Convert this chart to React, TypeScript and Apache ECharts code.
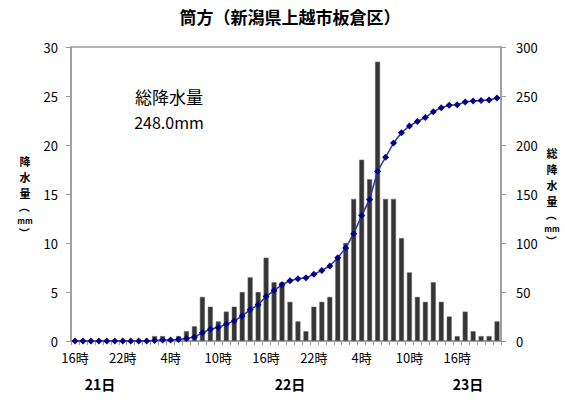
import React, { useEffect, useRef } from "react";
import * as echarts from "echarts";

// Hours from 21日16時 to 23日21時
const hours: number[] = [
  16, 17, 18, 19, 20, 21, 22, 23,
  0, 1, 2, 3, 4, 5, 6, 7, 8, 9, 10, 11, 12, 13, 14, 15, 16, 17, 18, 19, 20, 21, 22, 23,
  0, 1, 2, 3, 4, 5, 6, 7, 8, 9, 10, 11, 12, 13, 14, 15, 16, 17, 18, 19, 20, 21,
];
const categories: string[] = hours.map((h) => `${h}時`);

// hourly rainfall (mm)
const hourlyRain: number[] = [
  0, 0, 0, 0, 0, 0, 0, 0, 0, 0,
  0.5, 0.5, 0, 0.5, 1.0, 1.5, 4.5, 3.5, 2.0, 3.0,
  3.5, 5.0, 6.5, 5.0, 8.5, 6.0, 6.0, 4.0, 2.0, 1.0,
  3.5, 4.0, 4.5, 8.5, 10.0, 14.5, 18.5, 16.5, 28.5, 14.5,
  14.5, 10.5, 7.0, 4.5, 4.0, 6.0, 4.0, 2.5, 0.5, 3.0,
  1.0, 0.5, 0.5, 2.0,
];

// cumulative rainfall (mm)
const totalRain: number[] = [
  0, 0, 0, 0, 0, 0, 0, 0, 0, 0,
  0.5, 1.0, 1.0, 1.5, 2.5, 4.0, 8.5, 12.0, 14.0, 17.0,
  20.5, 25.5, 32.0, 37.0, 45.5, 51.5, 57.5, 61.5, 63.5, 64.5,
  68.0, 72.0, 76.5, 85.0, 95.0, 109.5, 128.0, 144.5, 173.0, 187.5,
  202.0, 212.5, 219.5, 224.0, 228.0, 234.0, 238.0, 240.5, 241.0, 244.0,
  245.0, 245.5, 246.0, 248.0,
];

const titleText = "筒方（新潟県上越市板倉区）";
const leftAxisName = ["降", "水", "量"];
const rightAxisName = ["総", "降", "水", "量"];
const unitParts = ["（", "mm", "）"];
const dayLabels = ["21日", "22日", "23日"];
const noteTitle = "総降水量";
const noteValue = "248.0mm";

const FONT = "'Noto Sans CJK JP', 'Noto Sans', sans-serif";
const AXIS_COLOR = "#9a9a9a";

function verticalName(chars: string[], x: number, yStart: number, pitch: number) {
  const items: any[] = chars.map((c, i) => ({
    type: "text",
    x,
    y: yStart + i * pitch,
    style: {
      text: c,
      font: `bold 11px ${FONT}`,
      fill: "#000",
      textAlign: "center",
      textVerticalAlign: "middle",
    },
  }));
  const y0 = yStart + chars.length * pitch;
  // "（" rotated to stand as an arc, "mm", "）" rotated
  items.push({
    type: "text",
    x,
    y: y0 - 2,
    rotation: -Math.PI / 2,
    style: {
      text: unitParts[0],
      font: `bold 11px ${FONT}`,
      fill: "#000",
      textAlign: "center",
      textVerticalAlign: "middle",
    },
  });
  items.push({
    type: "text",
    x,
    y: y0 + 11,
    style: {
      text: unitParts[1],
      font: `bold 8px ${FONT}`,
      fill: "#000",
      textAlign: "center",
      textVerticalAlign: "middle",
    },
  });
  items.push({
    type: "text",
    x,
    y: y0 + 24,
    rotation: -Math.PI / 2,
    style: {
      text: unitParts[2],
      font: `bold 11px ${FONT}`,
      fill: "#000",
      textAlign: "center",
      textVerticalAlign: "middle",
    },
  });
  return items;
}

export default function App() {
  const ref = useRef<HTMLDivElement>(null);

  useEffect(() => {
    if (!ref.current) return;
    const chart = echarts.init(ref.current, undefined, { renderer: "svg" });
    chart.setOption({
      animation: false,
      backgroundColor: "#ffffff",
      textStyle: { fontFamily: FONT },
      grid: {
        left: 71,
        right: 64,
        top: 47,
        bottom: 63,
        show: true,
        borderColor: AXIS_COLOR,
        borderWidth: 1.5,
        backgroundColor: "transparent",
      },
      xAxis: {
        type: "category",
        data: categories,
        boundaryGap: true,
        axisLine: { show: true, lineStyle: { color: AXIS_COLOR, width: 1.5 } },
        axisTick: { show: true, interval: 0, length: 4, lineStyle: { color: AXIS_COLOR } },
        axisLabel: {
          interval: 5,
          fontSize: 13,
          color: "#000",
          margin: 10,
          fontFamily: FONT,
        },
        splitLine: { show: false },
      },
      yAxis: [
        {
          type: "value",
          min: 0,
          max: 30,
          interval: 5,
          position: "left",
          axisLine: { show: true, lineStyle: { color: AXIS_COLOR, width: 1.5 } },
          axisTick: { show: true, length: 5, lineStyle: { color: AXIS_COLOR } },
          axisLabel: { fontSize: 13, color: "#000", margin: 13, fontFamily: FONT },
          splitLine: { show: false },
        },
        {
          type: "value",
          min: 0,
          max: 300,
          interval: 50,
          position: "right",
          axisLine: { show: true, lineStyle: { color: AXIS_COLOR, width: 1.5 } },
          axisTick: { show: true, length: 5, lineStyle: { color: AXIS_COLOR } },
          axisLabel: { fontSize: 13, color: "#000", margin: 15, fontFamily: FONT },
          splitLine: { show: false },
        },
      ],
      series: [
        {
          type: "bar",
          name: "降水量",
          data: hourlyRain,
          yAxisIndex: 0,
          barWidth: 5,
          itemStyle: { color: "#353535", borderColor: "#6a6a6a", borderWidth: 0.5 },
        },
        {
          type: "line",
          name: "総降水量",
          data: totalRain,
          yAxisIndex: 1,
          symbol: "diamond",
          symbolSize: 7,
          showAllSymbol: true,
          lineStyle: { color: "#3030b0", width: 1.5 },
          itemStyle: { color: "#000088" },
          z: 3,
        },
      ],
      graphic: [
        {
          type: "text",
          x: 290,
          y: 16,
          style: {
            text: titleText,
            font: `bold 17px ${FONT}`,
            fill: "#000",
            textAlign: "center",
            textVerticalAlign: "middle",
          },
        },
        {
          type: "text",
          x: 169,
          y: 96,
          style: {
            text: noteTitle,
            font: `17px ${FONT}`,
            fill: "#000",
            textAlign: "center",
            textVerticalAlign: "middle",
          },
        },
        {
          type: "text",
          x: 169,
          y: 122,
          style: {
            text: noteValue,
            font: `16px ${FONT}`,
            fill: "#000",
            textAlign: "center",
            textVerticalAlign: "middle",
          },
        },
        ...verticalName(leftAxisName, 25, 161, 16),
        ...verticalName(rightAxisName, 552, 153, 16),
        ...dayLabels.map((d, i) => ({
          type: "text",
          x: [100, 290, 468][i],
          y: 384,
          style: {
            text: d,
            font: `bold 14px ${FONT}`,
            fill: "#000",
            textAlign: "center",
            textVerticalAlign: "middle",
          },
        })),
      ],
    });
    return () => chart.dispose();
  }, []);

  return (
    <div
      ref={ref}
      style={{ position: "fixed", left: 0, top: 0, width: 565, height: 404, background: "#fff" }}
    />
  );
}
